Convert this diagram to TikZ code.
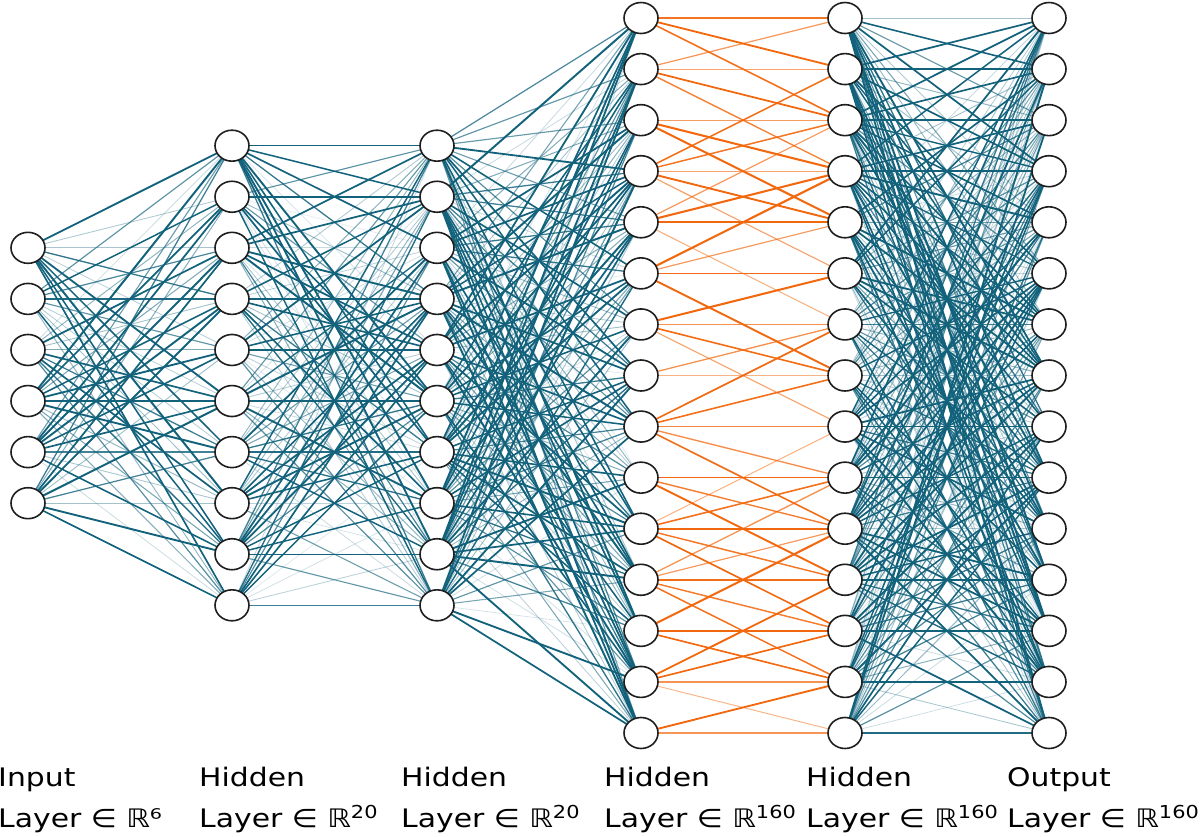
\documentclass[tikz,border=0pt]{standalone}
\usepackage{fontspec}
\setmainfont{DejaVu Sans}
\usetikzlibrary{shapes.geometric,backgrounds}
\definecolor{edgeblue}{RGB}{18,98,124}
\definecolor{edgeorange}{RGB}{242,104,14}
\definecolor{nodeline}{RGB}{30,30,30}
\newcommand{\lbl}[1]{\scalebox{1.17}[1]{#1}}
\begin{document}
\begin{tikzpicture}[x=1pt,y=-1pt,
  neuron/.style={ellipse,draw=nodeline,fill=white,line width=1.6pt,minimum width=34pt,minimum height=31pt,inner sep=0pt},
  lab/.style={anchor=base west,inner sep=0pt,font=\fontsize{25.5}{25.5}\selectfont}]
\useasboundingbox (0,0) rectangle (1200,836);
\pgfmathsetseed{7}
% neurons
\foreach \l/\n/\x in {1/6/28,2/10/232,3/10/437,4/15/641,5/15/845,6/15/1049}{
  \foreach \i in {1,...,\n}{
    \node[neuron] (n\l-\i) at (\x, {375.5+(\i-(\n+1)/2)*51.07}) {};
  }
}
% dense connections
\begin{pgfonlayer}{background}
\foreach \a/\na/\b/\nb in {1/6/2/10,2/10/3/10,3/10/4/15,5/15/6/15}{
  \foreach \i in {1,...,\na}{
    \foreach \j in {1,...,\nb}{
      \pgfmathsetmacro\w{rnd}
      \pgfmathsetmacro\op{min(1,0.12+1.6*\w)}
      \pgfmathsetmacro\lw{0.7+1.3*\w}
      \draw[edgeblue,line width=\lw pt,opacity=\op] (n\a-\i.center) -- (n\b-\j.center);
    }
  }
}
% banded sparse connections
\foreach \i in {1,...,15}{
  \foreach \d in {-2,...,2}{
    \pgfmathtruncatemacro\j{\i+\d}
    \pgfmathsetmacro\keep{rnd}
    \pgfmathsetmacro\w{rnd}
    \pgfmathsetmacro\op{min(1,0.45+0.9*\w)}
    \pgfmathsetmacro\lw{0.9+1.2*\w}
    \ifnum\j>0 \ifnum\j<16
      \ifdim\keep pt>0.15pt
        \draw[edgeorange,line width=\lw pt,opacity=\op] (n4-\i.center) -- (n5-\j.center);
      \fi
    \fi\fi
  }
}
\end{pgfonlayer}
% labels
\node[lab] (t1a) at (-2,786.5) {\lbl{Input}};
\node[lab] (t1b) at (-2,827.5) {\lbl{Layer ∈ ℝ⁶}};
\node[lab] (t2a) at (199,786.5) {\lbl{Hidden}};
\node[lab] (t2b) at (199,827.5) {\lbl{Layer ∈ ℝ\textsuperscript{20}}};
\node[lab] (t3a) at (401,786.5) {\lbl{Hidden}};
\node[lab] (t3b) at (401,827.5) {\lbl{Layer ∈ ℝ\textsuperscript{20}}};
\node[lab] (t4a) at (604,786.5) {\lbl{Hidden}};
\node[lab] (t4b) at (604,827.5) {\lbl{Layer ∈ ℝ\textsuperscript{160}}};
\node[lab] (t5a) at (806,786.5) {\lbl{Hidden}};
\node[lab] (t5b) at (806,827.5) {\lbl{Layer ∈ ℝ\textsuperscript{160}}};
\node[lab] (t6a) at (1007,786.5) {\lbl{Output}};
\node[lab] (t6b) at (1007,827.5) {\lbl{Layer ∈ ℝ\textsuperscript{160}}};
\end{tikzpicture}
\end{document}
